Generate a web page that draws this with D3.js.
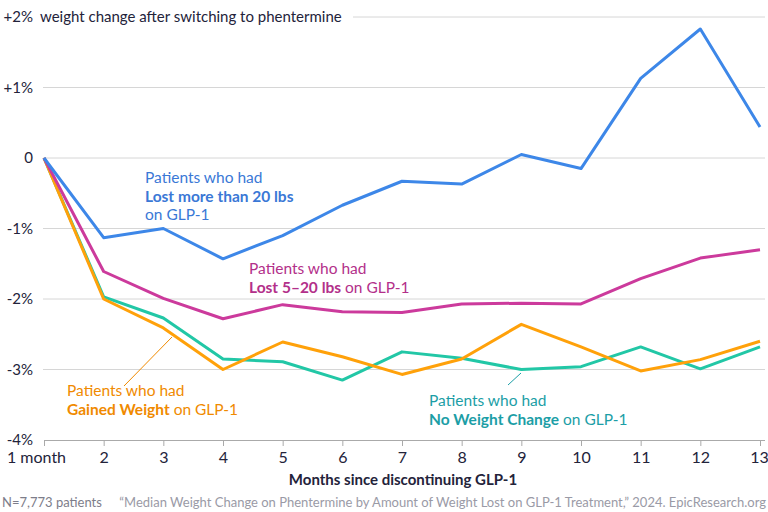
<!DOCTYPE html>
<html>
<head>
<meta charset="utf-8">
<script src="https://cdn.jsdelivr.net/npm/d3@7"></script>
<style>
  body { margin: 0; background: #fff; }
  text { font-family: Lato, "Open Sans", sans-serif; }
</style>
</head>
<body>
<div id="chart"></div>
<script>
var months = [1, 2, 3, 4, 5, 6, 7, 8, 9, 10, 11, 12, 13];
var monthLabels = ["1 month", "2", "3", "4", "5", "6", "7", "8", "9", "10", "11", "12", "13"];
var yTicks = [2, 1, 0, -1, -2, -3, -4];
var yTickLabels = ["+2%", "+1%", "0", "-1%", "-2%", "-3%", "-4%"];

var lostOver20 = [0, -1.13, -1.0, -1.43, -1.1, -0.67, -0.33, -0.37, 0.05, -0.15, 1.13, 1.83, 0.44];
var lost5to20 = [0, -1.61, -1.99, -2.28, -2.08, -2.18, -2.19, -2.07, -2.06, -2.07, -1.71, -1.42, -1.3];
var noChange = [0, -1.97, -2.27, -2.85, -2.89, -3.15, -2.75, -2.84, -3.0, -2.96, -2.68, -2.99, -2.68];
var gained = [0, -2.0, -2.41, -3.0, -2.61, -2.82, -3.07, -2.85, -2.36, -2.68, -3.02, -2.86, -2.6];

var svgWidth = 768;
var svgHeight = 512;

var svg = d3.select("#chart")
  .append("svg")
  .attr("width", svgWidth)
  .attr("height", svgHeight);

var x = d3.scaleLinear()
  .domain([1, 13])
  .range([44, 760]);

var y = d3.scaleLinear()
  .domain([-4, 2])
  .range([440, 17]);

// gridlines
svg.append("g")
  .selectAll("line")
  .data(yTicks.filter(d => d > -4))
  .enter()
  .append("line")
  .attr("x1", d => d === 2 ? 353 : 43)
  .attr("x2", 765)
  .attr("y1", d => y(d))
  .attr("y2", d => y(d))
  .attr("stroke", "#d6d6d6")
  .attr("stroke-width", 1);

// y tick labels
svg.append("g")
  .selectAll("text")
  .data(yTicks)
  .enter()
  .append("text")
  .attr("x", 33)
  .attr("y", d => y(d))
  .attr("dy", "0.36em")
  .attr("text-anchor", "end")
  .attr("font-size", "15px")
  .attr("fill", "#23233a")
  .text((d, i) => yTickLabels[i]);

svg.append("text")
  .attr("x", 40)
  .attr("y", y(2))
  .attr("dy", "0.36em")
  .attr("font-size", "15px")
  .attr("fill", "#23233a")
  .text("weight change after switching to phentermine");

// x axis
var bottomAxis = d3.axisBottom(x)
  .tickValues(months)
  .tickSize(6)
  .tickFormat((d, i) => monthLabels[i]);

var xAxis = svg.append("g")
  .attr("transform", `translate(0, ${y(-4)})`)
  .call(bottomAxis);

xAxis.select(".domain").attr("stroke", "#aaaaaa").attr("d", "M44,0.5H765");
xAxis.selectAll(".tick line").attr("stroke", "#aaaaaa");
xAxis.selectAll(".tick text")
  .attr("font-size", "16px")
  .attr("font-family", "Lato, sans-serif")
  .attr("fill", "#23233a")
  .attr("y", 12)
  .attr("dy", "0.71em");
xAxis.selectAll(".tick text").filter(d => d === 1).attr("dx", -8);
xAxis.selectAll(".tick text").filter(d => d === 13).attr("dx", -1);

svg.append("text")
  .attr("x", 403)
  .attr("y", 485)
  .attr("text-anchor", "middle")
  .attr("font-size", "15px")
  .attr("font-weight", "bold")
  .attr("fill", "#23233a")
  .text("Months since discontinuing GLP-1");

svg.append("text")
  .attr("x", 2)
  .attr("y", 507)
  .attr("font-size", "13px")
  .attr("fill", "#7d7d8a")
  .text("N=7,773 patients");

svg.append("text")
  .attr("x", 766)
  .attr("y", 507)
  .attr("text-anchor", "end")
  .attr("font-size", "13px")
  .attr("fill", "#9a9aa6")
  .text("\u201cMedian Weight Change on Phentermine by Amount of Weight Lost on GLP-1 Treatment,\u201d 2024. EpicResearch.org");

// lines
var series = [
  { values: noChange, color: "#22c7a6" },
  { values: gained, color: "#ffa10a" },
  { values: lost5to20, color: "#cc3a9c" },
  { values: lostOver20, color: "#3d87e8" }
];

var line = d3.line()
  .x((d, i) => x(months[i]))
  .y(d => y(d));

svg.append("g")
  .selectAll("path")
  .data(series)
  .enter()
  .append("path")
  .attr("d", d => line(d.values))
  .attr("fill", "none")
  .attr("stroke", d => d.color)
  .attr("stroke-width", 3)
  .attr("stroke-linejoin", "round");

// leader lines
svg.append("line")
  .attr("x1", 124).attr("y1", 386)
  .attr("x2", 172).attr("y2", 337)
  .attr("stroke", "#f08a00").attr("stroke-width", 1);

svg.append("line")
  .attr("x1", 508).attr("y1", 385)
  .attr("x2", 521).attr("y2", 373)
  .attr("stroke", "#1c9ea6").attr("stroke-width", 1);

// annotations
function label(xPos, yPos, color, lines) {
  var t = svg.append("text")
    .attr("x", xPos)
    .attr("y", yPos)
    .attr("font-size", "15.5px")
    .attr("fill", color);
  lines.forEach(function(parts, i) {
    parts.forEach(function(p, j) {
      var ts = t.append("tspan").text(p.text);
      if (j === 0) ts.attr("x", xPos).attr("dy", i === 0 ? 0 : 18.5);
      if (p.bold) ts.attr("font-weight", "bold");
    });
  });
}

label(145, 183, "#3a78d6", [
  [{ text: "Patients who had" }],
  [{ text: "Lost more than 20 lbs", bold: true }],
  [{ text: "on GLP-1" }]
]);

label(249, 274, "#b3308a", [
  [{ text: "Patients who had" }],
  [{ text: "Lost 5\u201320 lbs", bold: true }, { text: " on GLP-1" }]
]);

label(67, 396, "#f08a00", [
  [{ text: "Patients who had" }],
  [{ text: "Gained Weight", bold: true }, { text: " on GLP-1" }]
]);

label(429, 406, "#1c9ea6", [
  [{ text: "Patients who had" }],
  [{ text: "No Weight Change", bold: true }, { text: " on GLP-1" }]
]);
</script>
</body>
</html>
